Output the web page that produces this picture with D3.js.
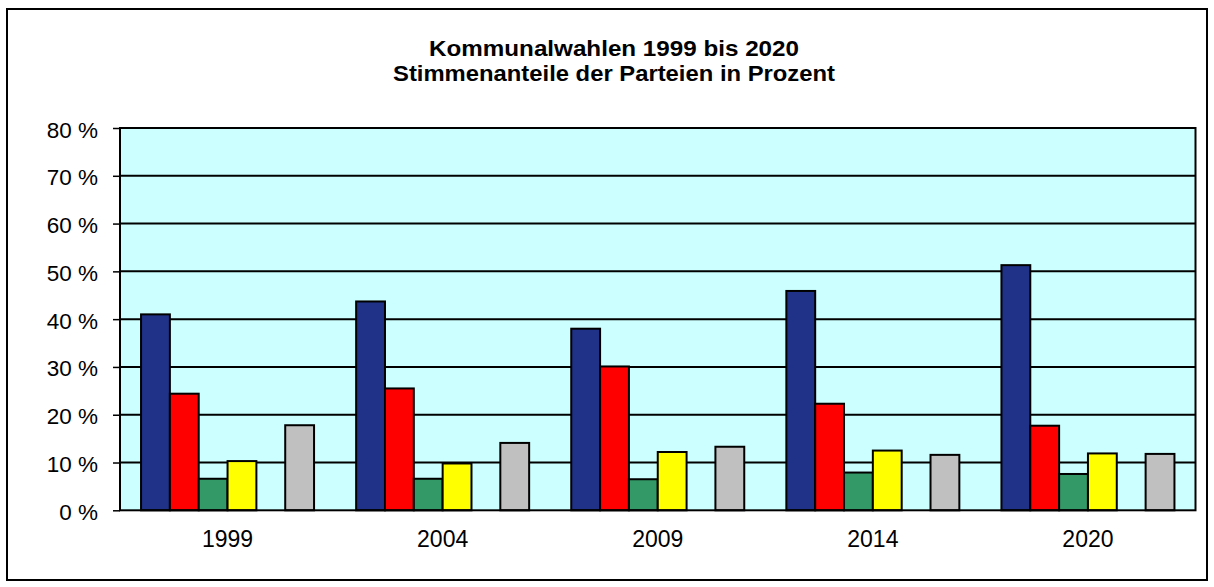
<!DOCTYPE html>
<html><head><meta charset="utf-8">
<script src="https://cdn.jsdelivr.net/npm/d3@7"></script>
<style>body{margin:0;background:#fff}svg{display:block}text{font-family:"Liberation Sans",Arial,sans-serif}</style>
</head><body>
<script>
const years = ["1999","2004","2009","2014","2020"];
const seriesNames = ["Partei 1","Partei 2","Partei 3","Partei 4","Partei 5","Sonstige"];
const seriesColors = ["#1f3288","#ff0000","#339966","#ffff00","none","#c0c0c0"];
const party1 = [41.0, 43.7, 38.0, 45.9, 51.3];
const party2 = [24.4, 25.5, 30.1, 22.3, 17.7];
const party3 = [6.6, 6.6, 6.5, 7.9, 7.6];
const party4 = [10.3, 9.8, 12.2, 12.5, 11.9];
const party5 = [null, null, null, null, null];
const sonstige = [17.8, 14.1, 13.3, 11.6, 11.8];
const yTicks = [0,10,20,30,40,50,60,70,80];
const titleLines = ["Kommunalwahlen 1999 bis 2020","Stimmenanteile der Parteien in Prozent"];

const seriesValues = [party1, party2, party3, party4, party5, sonstige];
const W = 1214, H = 587;
const svg = d3.select("body").append("svg").attr("width", W).attr("height", H);

svg.append("rect").attr("x",7).attr("y",9).attr("width",1200).attr("height",571)
  .attr("fill","#fff").attr("stroke","#000").attr("stroke-width",2);

const m = {left:120, right:1195.5, top:128, bottom:510.3};
const x0 = d3.scaleBand().domain(years).range([m.left, m.right]).paddingInner(0).paddingOuter(0);
const slot = x0.bandwidth() / (seriesNames.length + 1.46);
const x1 = d3.scaleBand().domain(seriesNames).range([slot*0.73, slot*0.73 + slot*seriesNames.length]).padding(0);
const y = d3.scaleLinear().domain([0,80]).range([m.bottom, m.top]);

svg.append("rect").attr("x",m.left).attr("y",m.top).attr("width",m.right-m.left).attr("height",m.bottom-m.top)
  .attr("fill","#ccffff");

svg.append("g").selectAll("line").data(yTicks.filter(t=>t>0 && t<80)).join("line")
  .attr("x1",m.left).attr("x2",m.right).attr("y1",d=>y(d)).attr("y2",d=>y(d))
  .attr("stroke","#000").attr("stroke-width",2);

const data = [];
years.forEach((yr,i)=>seriesNames.forEach((s,j)=>{
  const v = seriesValues[j][i];
  if (v!=null) data.push({yr, s, v, c: seriesColors[j]});
}));
svg.append("g").selectAll("rect").data(data).join("rect")
  .attr("x",d=>x0(d.yr)+x1(d.s)).attr("width",x1.bandwidth())
  .attr("y",d=>y(d.v)).attr("height",d=>y(0)-y(d.v))
  .attr("fill",d=>d.c).attr("stroke","#000").attr("stroke-width",2);

svg.append("rect").attr("x",m.left).attr("y",m.top).attr("width",m.right-m.left).attr("height",m.bottom-m.top)
  .attr("fill","none").attr("stroke","#000").attr("stroke-width",2);

const yAxis = d3.axisLeft(y).tickValues(yTicks).tickSize(7).tickPadding(15).tickFormat(d=>d+" %");
const gy = svg.append("g").attr("transform",`translate(${m.left},0)`).call(yAxis);
gy.select(".domain").remove();
gy.selectAll("line").attr("stroke","#000").attr("stroke-width",1.5);
gy.selectAll("text").attr("font-size",22.5).attr("dy","0.4em").attr("fill","#000").attr("font-family","Liberation Sans, Arial, sans-serif");

const xAxis = d3.axisBottom(x0).tickSize(0).tickPadding(20.7);
const gx = svg.append("g").attr("transform",`translate(0,${m.bottom})`).call(xAxis);
gx.select(".domain").remove();
gx.selectAll("text").attr("font-size",23).attr("fill","#000").attr("font-family","Liberation Sans, Arial, sans-serif");

const titleWidths = [370, 442];
svg.append("g").selectAll("text").data(titleLines).join("text")
  .attr("x",614).attr("y",(d,i)=>56+i*24.5).attr("text-anchor","middle")
  .attr("font-size",21.5).attr("font-weight","bold").attr("fill","#000")
  .attr("textLength",(d,i)=>titleWidths[i]).attr("lengthAdjust","spacingAndGlyphs").text(d=>d);
</script>
</body></html>
